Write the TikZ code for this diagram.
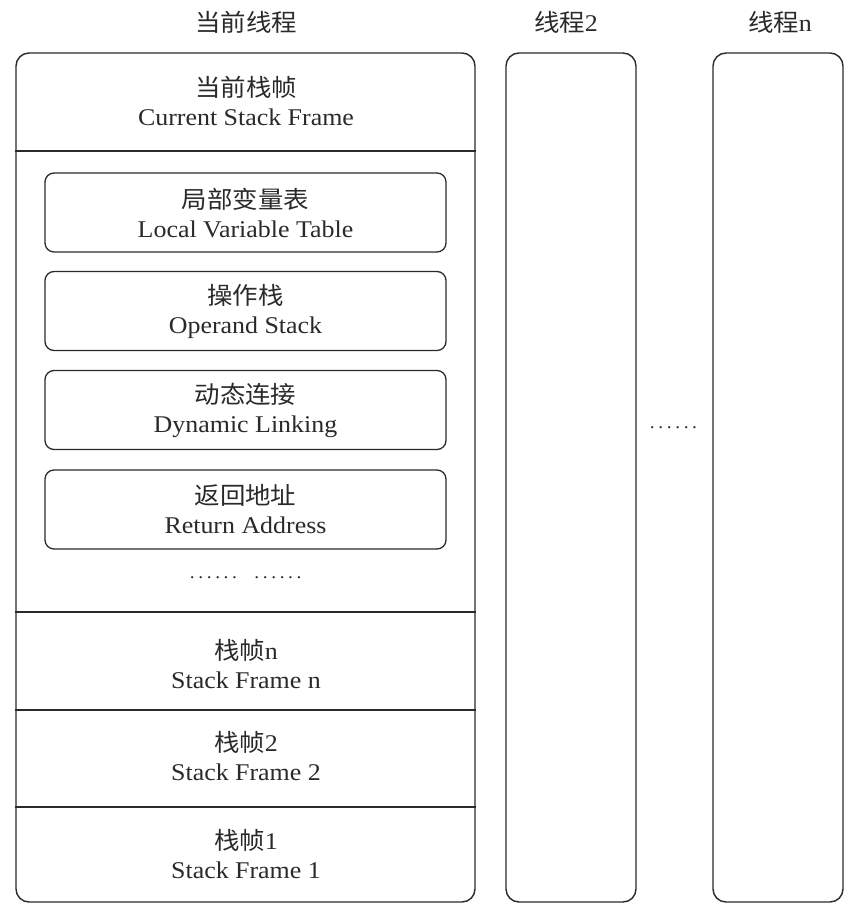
\documentclass[tikz,border=0pt]{standalone}
\usepackage{fontspec}
\setmainfont{Liberation Serif}[FakeStretch=1.08]
\newfontfamily\cjk{Noto Sans CJK SC}[FakeStretch=1.06]
\newcommand\mydots{.\kern3.6pt.\kern3.6pt.\kern3.6pt.\kern3.6pt.\kern3.6pt.}
\definecolor{ink}{HTML}{2A2A2A}
\begin{document}
\begin{tikzpicture}[x=1pt,y=-1pt,
  every node/.style={text=ink, font=\fontsize{24}{29}\selectfont},
  bigbox/.style={draw=ink, line width=1.4pt, rounded corners=13pt, inner sep=0pt},
  smallbox/.style={draw=ink, line width=1.3pt, rounded corners=9pt, inner sep=0pt,
    minimum width=401pt, minimum height=79pt},
  label/.style={align=center, inner sep=0pt},
  dotlabel/.style={inner sep=0pt, font=\fontsize{18}{18}\selectfont},
  sep/.style={draw=ink, line width=1.3pt}]
\path[use as bounding box, fill=white] (0,0) rectangle (850,913);

% thread titles
\node[label] (t1) at (246,22) {{\cjk 当前线程}};
\node[label] (t2) at (566,22) {{\cjk 线程}2};
\node[label] (tn) at (780,22) {{\cjk 线程}n};

% thread boxes
\node[bigbox, minimum width=459pt, minimum height=849pt] (main) at (245.5,477.5) {};
\node[bigbox, minimum width=130pt, minimum height=849pt] (th2) at (571,477.5) {};
\node[bigbox, minimum width=130pt, minimum height=849pt] (thn) at (778,477.5) {};

% separators in the current thread
\coordinate (s1) at (0,151);
\coordinate (s2) at (0,612);
\coordinate (s3) at (0,710);
\coordinate (s4) at (0,807);
\draw[sep] (main.west |- s1) -- (main.east |- s1);
\draw[sep] (main.west |- s2) -- (main.east |- s2);
\draw[sep] (main.west |- s3) -- (main.east |- s3);
\draw[sep] (main.west |- s4) -- (main.east |- s4);

% current stack frame
\node[label] (cur) at (246,101) {{\cjk 当前栈帧}\\Current Stack Frame};

% inner boxes
\node[smallbox] (lvt) at (245.5,212.5) {};
\node[smallbox] (ops) at (245.5,311) {};
\node[smallbox] (dyn) at (245.5,410) {};
\node[smallbox] (ret) at (245.5,509.5) {};
\node[label] (lvtt) at (lvt) {{\cjk 局部变量表}\\Local Variable Table};
\node[label] (opst) at (ops) {{\cjk 操作栈}\\Operand Stack};
\node[label] (dynt) at (dyn) {{\cjk 动态连接}\\Dynamic Linking};
\node[label] (rett) at (ret) {{\cjk 返回地址}\\Return Address};

\node[dotlabel] (dots1a) at (213.5,578) {\mydots};
\node[dotlabel] (dots1b) at (278,578) {\mydots};

% stack frames
\node[label] (sfn) at (246,664) {{\cjk 栈帧}n\\Stack Frame n};
\node[label] (sf2) at (246,756) {{\cjk 栈帧}2\\Stack Frame 2};
\node[label] (sf1) at (246,854) {{\cjk 栈帧}1\\Stack Frame 1};

% dots between thread 2 and thread n
\node[dotlabel] (dots2) at (673.5,428) {\mydots};
\end{tikzpicture}
\end{document}
